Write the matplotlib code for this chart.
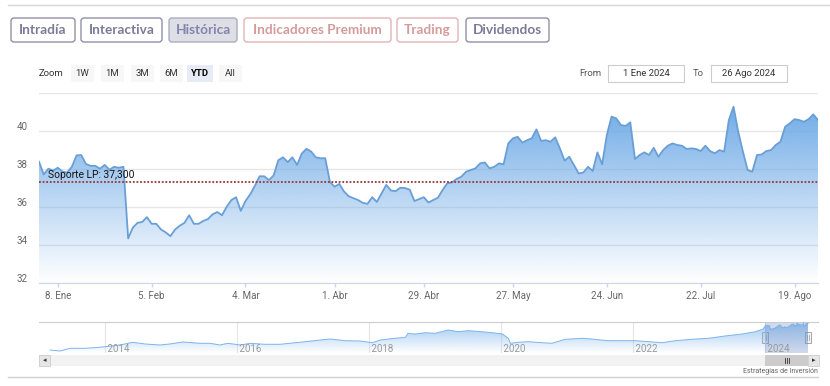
import numpy as np
import pandas as pd
import matplotlib
matplotlib.use("Agg")
import matplotlib.pyplot as plt
from matplotlib.patches import FancyBboxPatch, Rectangle, PathPatch
from matplotlib.transforms import ScaledTranslation

plt.rcParams['font.family'] = ['Roboto', 'DejaVu Sans']

# datos: cotizacion diaria YTD 2024 (dias habiles)
festivos = ['2024-03-29', '2024-04-01', '2024-05-01']
precio = [
    38.37, 37.70, 38.00, 37.90, 38.05, 37.85, 37.80, 38.10, 38.70, 38.72,
    38.25, 38.15, 38.15, 38.00, 38.20, 37.95, 38.10, 38.05, 38.10, 34.33,
    34.90, 35.15, 35.20, 35.45, 35.10, 35.10, 34.80, 34.65, 34.45, 34.80,
    35.00, 35.15, 35.55, 35.10, 35.10, 35.25, 35.35, 35.60, 35.72, 35.55,
    36.00, 36.35, 36.50, 35.78, 36.30, 36.65, 37.10, 37.60, 37.60, 37.40,
    37.65, 38.45, 38.60, 38.35, 38.60, 38.20, 38.80, 39.05, 38.90, 38.60,
    38.55, 38.55, 37.30, 37.05, 37.20, 36.80, 36.55, 36.45, 36.35, 36.20,
    36.15, 36.50, 36.25, 36.70, 37.15, 36.85, 36.82, 37.00, 36.98, 36.90,
    36.30, 36.40, 36.50, 36.22, 36.35, 36.47, 36.88, 37.23, 37.28, 37.46,
    37.58, 37.84, 37.93, 38.02, 38.28, 38.33, 38.02, 38.10, 38.28, 38.23,
    39.33, 39.60, 39.68, 39.37, 39.50, 39.60, 40.07, 39.46, 39.50, 39.42,
    39.65, 39.07, 38.42, 38.63, 38.19, 37.75, 37.80, 38.10, 37.88, 38.86,
    38.23, 39.77, 40.74, 40.65, 40.30, 40.25, 40.44, 38.51, 38.72, 38.86,
    38.72, 39.10, 38.63, 38.98, 39.21, 39.33, 39.25, 39.21, 39.04, 39.07,
    39.04, 38.93, 39.21, 38.93, 38.81, 38.98, 38.90, 40.56, 41.26, 39.95,
    38.90, 37.93, 37.84, 38.72, 38.75, 38.93, 38.98, 39.25, 39.42, 40.21,
    40.39, 40.61, 40.56, 40.47, 40.61, 40.86, 40.56,
]
soporte = 37.3
ticks_fecha = ['2024-01-08', '2024-02-05', '2024-03-04', '2024-04-01', '2024-04-29',
               '2024-05-27', '2024-06-24', '2024-07-22', '2024-08-19']
ticks_label = ['8. Ene', '5. Feb', '4. Mar', '1. Abr', '29. Abr',
               '27. May', '24. Jun', '22. Jul', '19. Ago']
y_ticks = [32, 34, 36, 38, 40, 42]

# navegador: historico (lecturas aproximadas)
nav_anio = [2013.17, 2013.32, 2013.47, 2013.70, 2013.92, 2014.00, 2014.23, 2014.42,
            2014.61, 2014.83, 2014.98, 2015.18, 2015.44, 2015.59, 2015.74, 2015.86,
            2016.05, 2016.20, 2016.42, 2016.65, 2016.95, 2017.26, 2017.41, 2017.64,
            2017.86, 2018.05, 2018.17, 2018.39, 2018.55, 2018.59, 2018.70, 2018.85,
            2019.00, 2019.20, 2019.35, 2019.50, 2019.71, 2019.86, 2020.02, 2020.11,
            2020.14, 2020.26, 2020.41, 2020.62, 2020.77, 2020.97, 2021.23, 2021.42,
            2021.62, 2021.83, 2022.03, 2022.23, 2022.44, 2022.64, 2022.89, 2023.14,
            2023.39, 2023.65, 2023.85, 2023.97]
nav_valor = [14.0, 13.0, 15.7, 15.7, 16.7, 17.3, 19.0, 21.7,
             20.0, 19.0, 20.0, 22.0, 20.7, 20.7, 19.0, 20.7,
             19.0, 20.7, 19.7, 19.7, 21.7, 24.0, 25.0, 23.3,
             23.0, 21.3, 24.0, 25.7, 26.7, 30.7, 30.0, 31.3,
             30.7, 34.0, 32.3, 33.3, 32.3, 31.3, 30.0, 25.7,
             20.7, 21.7, 22.3, 21.3, 20.7, 24.7, 25.7, 24.7,
             23.3, 23.3, 23.3, 22.3, 21.3, 23.3, 24.7, 25.7,
             28.0, 30.0, 32.3, 35.0]
nav_years = [2014, 2016, 2018, 2020, 2022, 2024]

dias = pd.bdate_range('2024-01-02', '2024-08-26')
dias = dias[~dias.isin(pd.to_datetime(festivos))]
x = np.arange(len(precio))
y = np.array(precio)
tick_pos = dias.searchsorted(pd.to_datetime(ticks_fecha))


def gradient_area(ax, xs, ys, base, top, rgb, a_top, z):
    poly = ax.fill_between(xs, ys, base, facecolor='none', edgecolor='none')
    patch = PathPatch(poly.get_paths()[0], transform=ax.transData,
                      facecolor='none', edgecolor='none')
    ax.add_patch(patch)
    img = np.zeros((256, 1, 4))
    img[..., 0], img[..., 1], img[..., 2] = [c / 255 for c in rgb]
    img[:, 0, 3] = np.linspace(a_top, 0.0, 256)
    im = ax.imshow(img, extent=[xs[0], xs[-1], base, top], origin='upper',
                   aspect='auto', zorder=z, interpolation='bilinear')
    im.set_clip_path(patch)


fig = plt.figure(figsize=(8.3, 3.86), dpi=100)

# capa de interfaz en pixeles
ui = fig.add_axes([0, 0, 1, 1])
ui.set_xlim(0, 830)
ui.set_ylim(386, 0)
ui.axis('off')

ui.plot([8, 830], [5, 5], color='#d6d6d6', lw=1)
ui.plot([8, 818], [377, 377], color='#cfcfcf', lw=1)

botones = [('Intradía', 11, 75, 'normal'), ('Interactiva', 81, 162, 'normal'),
           ('Histórica', 169, 237, 'sel'), ('Indicadores Premium', 244, 391, 'prem'),
           ('Trading', 397, 458, 'prem'), ('Dividendos', 466, 549, 'normal')]
estilos = {'normal': ('white', '#8f8fa8', '#7b7b99'),
           'sel': ('#dedee7', '#ababbf', '#8484ad'),
           'prem': ('white', '#e2b5b5', '#d59a9a')}
for txt, x0, x1, st in botones:
    fc, ec, tc = estilos[st]
    ui.add_patch(FancyBboxPatch((x0, 18), x1 - x0, 24, boxstyle='round,pad=0,rounding_size=3',
                                facecolor=fc, edgecolor=ec, lw=1))
    ui.text((x0 + x1) / 2, 30.5, txt, ha='center', va='center', fontsize=9.8,
            fontweight='bold', color=tc, family=['Lato', 'DejaVu Sans'])

ui.text(39, 73.5, 'Zoom', ha='left', va='center', fontsize=6.8, color='#333333')
zooms = [('1W', 82, 23), ('1M', 112, 23), ('3M', 142, 23), ('6M', 171, 23),
         ('YTD', 200, 26), ('All', 230, 23)]
for txt, cx, w in zooms:
    sel = txt == 'YTD'
    ui.add_patch(Rectangle((cx - w / 2, 65), w, 17, facecolor='#e6ebf5' if sel else '#f7f7f7',
                           edgecolor='none'))
    ui.text(cx, 73.5, txt, ha='center', va='center', fontsize=6.8, color='#000000' if sel else '#333333',
            fontweight='bold' if sel else 'normal')

ui.text(590, 73.5, 'From', ha='center', va='center', fontsize=6.8, color='#555555')
ui.text(698, 73.5, 'To', ha='center', va='center', fontsize=6.8, color='#555555')
for x0, x1, txt in [(608, 684, '1 Ene 2024'), (711, 787, '26 Ago 2024')]:
    ui.add_patch(Rectangle((x0, 65), x1 - x0, 17, facecolor='white', edgecolor='#cccccc', lw=0.8))
    ui.text((x0 + x1) / 2, 73.5, txt, ha='center', va='center', fontsize=6.8, color='#333333')

# grafico principal
ax = fig.add_axes([39 / 830, 1 - 282.7 / 386, 779 / 830, 190 / 386], zorder=2)
ax.patch.set_alpha(0)
gradient_area(ax, x, y, 32, y.max(), (114, 172, 231), 1.0, 1)
ax.plot(x, y, color='#6a9fd6', lw=1.3, zorder=3)
ax.axhline(soporte, color='#9a3535', lw=1.3, ls=(0, (1, 1)), zorder=4)
ax.annotate('Soporte LP: 37,300', xy=(0, soporte), xytext=(8.5, 2.5),
            textcoords='offset pixels', ha='left', va='bottom', fontsize=7.4, color='#111111', zorder=5)
ax.set_xlim(0, len(precio) - 1)
ax.set_ylim(32, 42)
ax.set_yticks(y_ticks)
ax.set_yticklabels([str(v) if v < 42 else '' for v in y_ticks])
ax.grid(axis='y', color='#e6e6e6', lw=1)
ax.set_axisbelow(True)
ax.tick_params(axis='y', length=0, pad=8.5, labelsize=7, labelcolor='#666666')
for lbl in ax.get_yticklabels():
    lbl.set_transform(lbl.get_transform() + ScaledTranslation(0, 0.045, fig.dpi_scale_trans))
ax.set_xticks(tick_pos)
ax.set_xticklabels(ticks_label)
ax.tick_params(axis='x', length=3, width=1, color='#ccd6eb', pad=3, labelsize=7, labelcolor='#666666')
for s in ['top', 'right', 'left']:
    ax.spines[s].set_visible(False)
ax.spines['bottom'].set_color('#ccd6eb')

# navegador
nav = fig.add_axes([39 / 830, 1 - 353 / 386, 779 / 830, 31 / 386], zorder=2)
nav.patch.set_alpha(0)
anio_ytd = 2024 + (dias.dayofyear.values - 1) / 366
nx = np.concatenate([nav_anio, anio_ytd])
ny = np.concatenate([nav_valor, y])
gradient_area(nav, nx, ny, 11, ny.max(), (124, 181, 236), 0.75, 1)
nav.plot(nx, ny, color='#7cb5ec', lw=0.7, zorder=3)
for yr in nav_years:
    nav.axvline(yr, color='#e6e6e6', lw=0.8, zorder=0)
    nav.text(yr, 15.5, ' ' + str(yr), ha='left', va='center', fontsize=7, color='#999999', zorder=4)
nav.axvspan(anio_ytd[0], anio_ytd[-1], color=(102 / 255, 133 / 255, 194 / 255), alpha=0.3, lw=0, zorder=2)
nav.set_xlim(2013.0, 2024.8)
nav.set_ylim(11, 42)
nav.set_xticks([])
nav.set_yticks([])
for s in ['bottom', 'right', 'left']:
    nav.spines[s].set_visible(False)
nav.spines['top'].set_color('#cccccc')

# barra de desplazamiento y asas
def px(yr):
    return 39 + (yr - 2013.0) / (2024.8 - 2013.0) * 779


sx0, sx1 = px(anio_ytd[0]), px(anio_ytd[-1])
ui.add_patch(Rectangle((39, 355), 779, 11, facecolor='#f2f2f2', edgecolor='none'))
ui.add_patch(Rectangle((sx0, 355), sx1 - sx0, 11, facecolor='#cccccc', edgecolor='none'))
for gx in (-2, 0, 2):
    ui.plot([(sx0 + sx1) / 2 + gx] * 2, [358, 363], color='#333333', lw=0.6)
for bx in (39, 808):
    ui.add_patch(Rectangle((bx, 355), 11, 11, facecolor='#e6e6e6', edgecolor='#cccccc', lw=0.6))
ui.text(44.5, 360.5, '◂', ha='center', va='center', fontsize=5, color='#333333', family='DejaVu Sans')
ui.text(813.5, 360.5, '▸', ha='center', va='center', fontsize=5, color='#333333', family='DejaVu Sans')
for hx in (sx0, sx1):
    ui.add_patch(Rectangle((hx - 3, 332), 6, 11, facecolor='#f2f2f2', edgecolor='#999999', lw=0.6, zorder=5))
    ui.plot([hx - 0.8, hx - 0.8], [335, 340], color='#999999', lw=0.5, zorder=6)
    ui.plot([hx + 0.8, hx + 0.8], [335, 340], color='#999999', lw=0.5, zorder=6)
fig.text(818 / 830, 1 - 371.5 / 386, 'Estrategias de Inversión', ha='right', va='center',
         fontsize=5, color='#666666')

fig.savefig('out.png', dpi=100)
